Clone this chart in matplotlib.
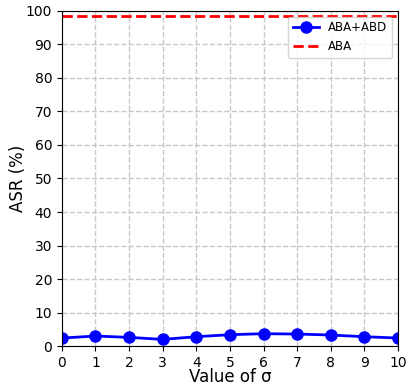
import numpy as np
import matplotlib.pyplot as plt

sigma = list(range(11))
asr_aba_abd = [2.4, 3.0, 2.6, 2.0, 2.8, 3.4, 3.7, 3.6, 3.3, 2.8, 2.4]
asr_aba = 98.5

fig, ax = plt.subplots(figsize=(4.07, 3.88), dpi=100)
ax.plot(sigma, asr_aba_abd, 'o-', color='blue', linewidth=2, markersize=8, label='ABA+ABD')
ax.axhline(asr_aba, color='red', linestyle='--', linewidth=2, label='ABA')

ax.set_xlim(0, 10)
ax.set_ylim(0, 100)
ax.set_xticks(sigma)
ax.set_yticks(range(0, 101, 10))
ax.set_xlabel('Value of σ', fontsize=12, labelpad=-1)
ax.set_ylabel('ASR (%)', fontsize=12, labelpad=-1)
ax.grid(True, linestyle='--', color='#c8c8c8', linewidth=1)
ax.legend(loc='upper right', fontsize=8.5, handlelength=2.2)

fig.subplots_adjust(left=0.152, right=0.978, top=0.972, bottom=0.108)
fig.savefig('out.png', dpi=100)
